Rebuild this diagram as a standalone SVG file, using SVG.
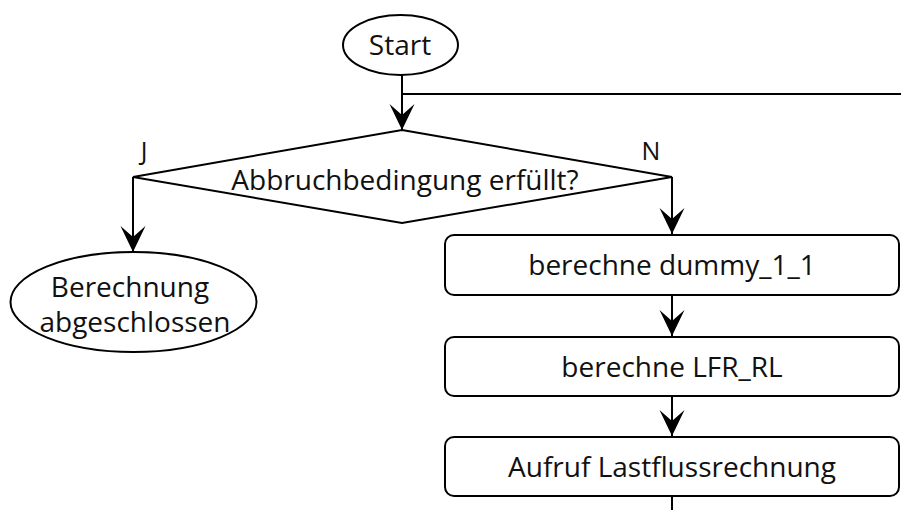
<svg xmlns="http://www.w3.org/2000/svg" width="901" height="510" viewBox="0 0 901 510">
<style>
.s{fill:#fff;stroke:#000;stroke-width:2}
.c{fill:none;stroke:#000;stroke-width:2}
text{font-family:"Open Sans","Liberation Sans",sans-serif;font-size:28px;fill:#111;text-anchor:middle}
.lbl{font-size:25px}
</style>
<defs>
<marker id="ah" markerUnits="userSpaceOnUse" markerWidth="30" markerHeight="30" viewBox="-28 -15 30 30" refX="0" refY="0" orient="auto">
<path d="M0,0 L-26,-12.5 L-15,0 L-26,12.5 Z" fill="#000"/>
</marker>
</defs>
<g id="connectors">
<line class="c" x1="402" y1="75" x2="402" y2="130" marker-end="url(#ah)"/>
<line class="c" x1="402" y1="94" x2="901" y2="94"/>
<polyline class="c" points="133,177 133,252" marker-end="url(#ah)"/>
<polyline class="c" points="672,177 672,234" marker-end="url(#ah)"/>
<line class="c" x1="672" y1="295" x2="672" y2="336" marker-end="url(#ah)"/>
<line class="c" x1="672" y1="396" x2="672" y2="436" marker-end="url(#ah)"/>
<line class="c" x1="672" y1="496" x2="672" y2="510"/>
</g>
<g id="start">
<ellipse class="s" cx="400.5" cy="45" rx="57.5" ry="30"/>
<text x="400" y="55">Start</text>
</g>
<g id="decision">
<polygon class="s" points="402,130 672,177 402,223 133,177"/>
<text x="405" y="190">Abbruchbedingung erfüllt?</text>
<text class="lbl" x="144" y="160">J</text>
<text class="lbl" x="651" y="160">N</text>
</g>
<g id="end">
<ellipse class="s" cx="133.5" cy="302" rx="123" ry="50"/>
<text x="130" y="297">Berechnung</text>
<text x="135" y="332">abgeschlossen</text>
</g>
<g id="box1">
<rect class="s" x="445" y="235" width="454" height="60" rx="9"/>
<text x="672" y="275">berechne dummy_1_1</text>
</g>
<g id="box2">
<rect class="s" x="445" y="337" width="454" height="59" rx="9"/>
<text x="672" y="377">berechne LFR_RL</text>
</g>
<g id="box3">
<rect class="s" x="445" y="437" width="454" height="59" rx="9"/>
<text x="672" y="477">Aufruf Lastflussrechnung</text>
</g>
</svg>
